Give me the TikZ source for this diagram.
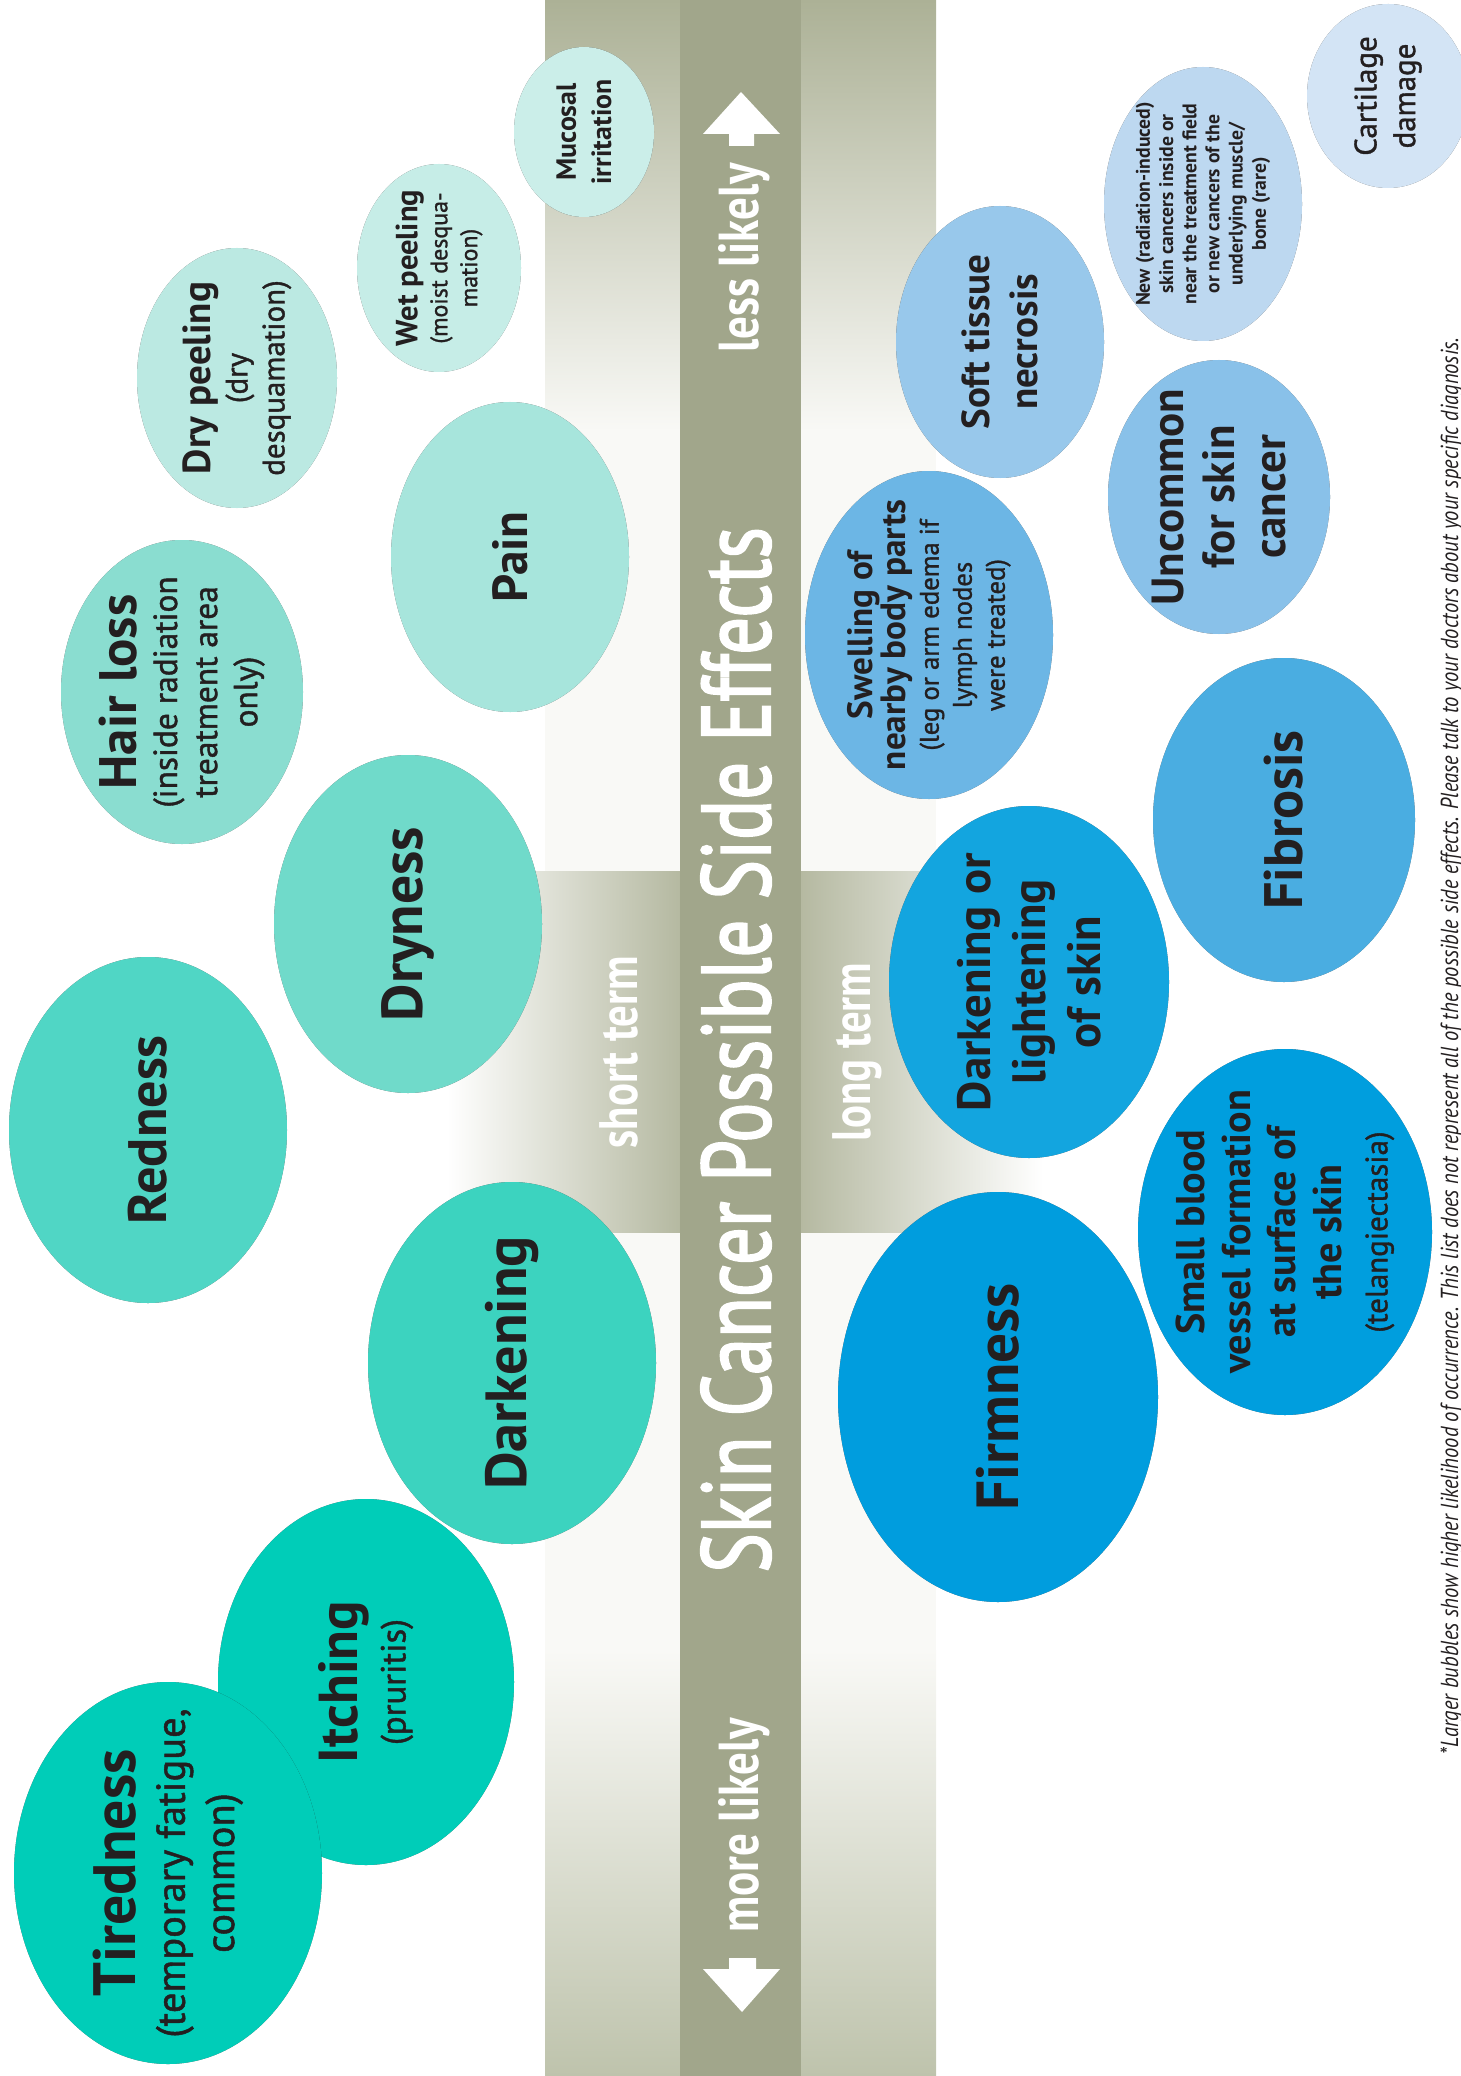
\documentclass[tikz,border=0pt]{standalone}
\usepackage{fontspec}
\setmainfont{PT Sans}
\newfontfamily\titlefont{PT Sans}[FakeBold=2.2]
\newfontfamily\semifont{PT Sans}[FakeBold=1.2]
\usepackage{tikz}
\usetikzlibrary{calc}

\definecolor{strip}{RGB}{161,166,139}
\definecolor{bandtop}{RGB}{172,177,150}
\definecolor{bandbot}{RGB}{190,195,172}
\definecolor{bandmid}{RGB}{249,249,246}
\definecolor{termgray}{RGB}{181,185,161}
\definecolor{inktext}{RGB}{35,31,32}
% teal bubbles
\definecolor{cTired}{RGB}{0,205,184}
\definecolor{cItch}{RGB}{0,205,184}
\definecolor{cDarkL}{RGB}{60,211,191}
\definecolor{cRed}{RGB}{80,214,197}
\definecolor{cDry}{RGB}{112,218,202}
\definecolor{cHair}{RGB}{138,221,208}
\definecolor{cPain}{RGB}{167,229,220}
\definecolor{cDryPeel}{RGB}{187,233,226}
\definecolor{cWetPeel}{RGB}{198,237,231}
\definecolor{cMucosal}{RGB}{203,238,233}
% blue bubbles
\definecolor{cFirm}{RGB}{0,157,222}
\definecolor{cVessel}{RGB}{0,158,222}
\definecolor{cDarkR}{RGB}{19,165,223}
\definecolor{cFibro}{RGB}{74,173,225}
\definecolor{cSwell}{RGB}{108,182,229}
\definecolor{cSoft}{RGB}{152,200,235}
\definecolor{cUncommon}{RGB}{137,193,233}
\definecolor{cNew}{RGB}{189,216,240}
\definecolor{cCartil}{RGB}{211,228,245}

\newcommand{\bsz}[2]{\fontsize{#1}{#2}\bfseries\selectfont}
\newcommand{\rsz}[2]{\fontsize{#1}{#2}\semifont}

\tikzset{
  bubtxt/.style={rotate=90, align=center, text=inktext, inner sep=0pt},
  bandtxt/.style={rotate=90, text=white, inner sep=0pt, anchor=base},
  shadeA/.style={fill=black, opacity=0.15},
  shadeB/.style={fill=black!85, opacity=0.6},
}

\begin{document}
\begin{tikzpicture}[x=0.01cm, y=-0.01cm]
        %RAHMEN
        \useasboundingbox (0,0) rectangle (1460,2076);

        %BAND
        \shade[top color=bandtop, bottom color=bandmid] (545,0) rectangle (936,431);
        \fill[bandmid] (545,430) rectangle (936,1651);
        \shade[top color=bandmid, bottom color=bandbot] (545,1650) rectangle (936,2076);
        \shade[left color=white, right color=termgray] (447,871) rectangle (680,1232);
        \shade[left color=termgray, right color=white] (801,871) rectangle (1043,1232);
        \fill[strip] (680,0) rectangle (801,2076);

        %PANAH
        \fill[white] (741,92) -- (780,134) -- (754,134) -- (754,146) -- (729,146) -- (729,134) -- (703,134) -- cycle;
        \fill[white] (742,2012) -- (780,1969) -- (756,1969) -- (756,1958) -- (729,1958) -- (729,1969) -- (703,1969) -- cycle;

        %JUDUL
        \node[bandtxt] (title) at (770,1050) {\fontsize{27.6}{30}\titlefont\scalebox{0.77}[1]{Skin Cancer Possible Side Effects}};
        \node[bandtxt] (less) at (758,258) {\bsz{16}{18}\scalebox{0.8}[1]{less likely}};
        \node[bandtxt] (more) at (758,1825) {\bsz{16}{18}\scalebox{0.8}[1]{more likely}};
        \node[bandtxt] (short) at (637,1052) {\bsz{15.4}{18}\scalebox{0.79}[1]{short term}};
        \node[bandtxt] (long) at (870,1052) {\bsz{15.4}{18}\scalebox{0.79}[1]{long term}};

        %KOORDINAT
        \coordinate (cartil) at (1388,96);
        \coordinate (mucosal) at (584,132);
        \coordinate (newcan) at (1203,204);
        \coordinate (wetpeel) at (439,268);
        \coordinate (soft) at (1000,342);
        \coordinate (drypeel) at (237,378);
        \coordinate (uncommon) at (1219,497);
        \coordinate (pain) at (510,557);
        \coordinate (swell) at (929,635);
        \coordinate (hair) at (182,692);
        \coordinate (fibro) at (1284,820);
        \coordinate (dry) at (408,924);
        \coordinate (darkr) at (1029,982);
        \coordinate (red) at (148,1130);
        \coordinate (vessel) at (1285,1232);
        \coordinate (darkl) at (512,1363);
        \coordinate (firm) at (998,1397);
        \coordinate (itch) at (366,1682);
        \coordinate (tired) at (168,1873);

        %GELEMBUNG
        \fill[shadeA, shift={(7,7)}] (cartil) ellipse [x radius=81, y radius=92];
        \fill[shadeB, shift={(3,3)}] (cartil) ellipse [x radius=81, y radius=92];
        \fill[cCartil] (cartil) ellipse [x radius=81, y radius=92];
        \node[bubtxt, font=\fontsize{8.8}{11}\selectfont] (cartiltxt) at (cartil) {\rsz{8.8}{11}Cartilage\\\rsz{8.8}{11}damage};

        \fill[shadeA, shift={(7,7)}] (mucosal) ellipse [x radius=70, y radius=85];
        \fill[shadeB, shift={(3,3)}] (mucosal) ellipse [x radius=70, y radius=85];
        \fill[cMucosal] (mucosal) ellipse [x radius=70, y radius=85];
        \node[bubtxt, font=\fontsize{7.9}{10}\selectfont] (mucosaltxt) at (mucosal) {\bsz{7.9}{10}Mucosal\\\bsz{7.9}{10}irritation};

        \fill[shadeA, shift={(7,7)}] (newcan) ellipse [x radius=99, y radius=137];
        \fill[shadeB, shift={(3,3)}] (newcan) ellipse [x radius=99, y radius=137];
        \fill[cNew] (newcan) ellipse [x radius=99, y radius=137];
        \node[bubtxt, font=\fontsize{5.6}{6.6}\selectfont] (newcantxt) at (newcan) {\bsz{5.6}{6.6}New (radiation-induced)\\\bsz{5.6}{6.6}skin cancers inside or\\\bsz{5.6}{6.6}near the treatment field\\\bsz{5.6}{6.6}or new cancers of the\\\bsz{5.6}{6.6}underlying muscle/\\\bsz{5.6}{6.6}bone (rare)};

        \fill[shadeA, shift={(7,7)}] (wetpeel) ellipse [x radius=82, y radius=104];
        \fill[shadeB, shift={(3,3)}] (wetpeel) ellipse [x radius=82, y radius=104];
        \fill[cWetPeel] (wetpeel) ellipse [x radius=82, y radius=104];
        \node[bubtxt, font=\fontsize{6.8}{8.5}\selectfont] (wetpeeltxt) at (wetpeel) {\bsz{8.7}{10}Wet peeling\\\rsz{6.8}{8.5}(moist desqua-\\\rsz{6.8}{8.5}mation)};

        \fill[shadeA, shift={(7,7)}] (soft) ellipse [x radius=104, y radius=136];
        \fill[shadeB, shift={(3,3)}] (soft) ellipse [x radius=104, y radius=136];
        \fill[cSoft] (soft) ellipse [x radius=104, y radius=136];
        \node[bubtxt, font=\fontsize{11.1}{13.5}\selectfont] (softtxt) at (soft) {\bsz{11.1}{13.5}Soft tissue\\\bsz{11.1}{13.5}necrosis};

        \fill[shadeA, shift={(7,7)}] (drypeel) ellipse [x radius=100, y radius=130];
        \fill[shadeB, shift={(3,3)}] (drypeel) ellipse [x radius=100, y radius=130];
        \fill[cDryPeel] (drypeel) ellipse [x radius=100, y radius=130];
        \node[bubtxt, font=\fontsize{8.8}{10.5}\selectfont] (drypeeltxt) at (drypeel) {\bsz{11.1}{13}Dry peeling\\\rsz{8.8}{10.5}(dry\\\rsz{8.8}{10.5}desquamation)};

        \fill[shadeA, shift={(7,7)}] (uncommon) ellipse [x radius=111, y radius=137];
        \fill[shadeB, shift={(3,3)}] (uncommon) ellipse [x radius=111, y radius=137];
        \fill[cUncommon] (uncommon) ellipse [x radius=111, y radius=137];
        \node[bubtxt, font=\fontsize{12.8}{14.5}\selectfont] (uncommontxt) at (uncommon) {\bsz{12.8}{14.5}Uncommon\\\bsz{12.8}{14.5}for skin\\\bsz{12.8}{14.5}cancer};

        \fill[shadeA, shift={(7,7)}] (pain) ellipse [x radius=119, y radius=155];
        \fill[shadeB, shift={(3,3)}] (pain) ellipse [x radius=119, y radius=155];
        \fill[cPain] (pain) ellipse [x radius=119, y radius=155];
        \node[bubtxt] (paintxt) at (pain) {\bsz{14}{16}Pain};

        \fill[shadeA, shift={(7,7)}] (swell) ellipse [x radius=124, y radius=164];
        \fill[shadeB, shift={(3,3)}] (swell) ellipse [x radius=124, y radius=164];
        \fill[cSwell] (swell) ellipse [x radius=124, y radius=164];
        \node[bubtxt, font=\fontsize{7.6}{9.4}\selectfont] (swelltxt) at (swell) {\bsz{10}{11.5}Swelling of\\\bsz{10}{11.5}nearby body parts\\\rsz{7.6}{9.4}(leg or arm edema if\\\rsz{7.6}{9.4}lymph nodes\\\rsz{7.6}{9.4}were treated)};

        \fill[shadeA, shift={(7,7)}] (hair) ellipse [x radius=121, y radius=152];
        \fill[shadeB, shift={(3,3)}] (hair) ellipse [x radius=121, y radius=152];
        \fill[cHair] (hair) ellipse [x radius=121, y radius=152];
        \node[bubtxt, font=\fontsize{9.5}{11.4}\selectfont] (hairtxt) at (hair) {\bsz{15}{16}Hair loss\\\rsz{9.5}{11.4}(inside radiation\\\rsz{9.5}{11.4}treatment area\\\rsz{9.5}{11.4}only)};

        \fill[shadeA, shift={(7,7)}] (fibro) ellipse [x radius=131, y radius=162];
        \fill[shadeB, shift={(3,3)}] (fibro) ellipse [x radius=131, y radius=162];
        \fill[cFibro] (fibro) ellipse [x radius=131, y radius=162];
        \node[bubtxt] (fibrotxt) at (fibro) {\bsz{15.4}{17}Fibrosis};

        \fill[shadeA, shift={(7,7)}] (dry) ellipse [x radius=134, y radius=169];
        \fill[shadeB, shift={(3,3)}] (dry) ellipse [x radius=134, y radius=169];
        \fill[cDry] (dry) ellipse [x radius=134, y radius=169];
        \node[bubtxt] (drytxt) at (dry) {\bsz{16.4}{18}Dryness};

        \fill[shadeA, shift={(7,7)}] (darkr) ellipse [x radius=140, y radius=176];
        \fill[shadeB, shift={(3,3)}] (darkr) ellipse [x radius=140, y radius=176];
        \fill[cDarkR] (darkr) ellipse [x radius=140, y radius=176];
        \node[bubtxt, font=\fontsize{13.3}{15.6}\selectfont] (darkrtxt) at (darkr) {\bsz{13.3}{15.6}Darkening or\\\bsz{13.3}{15.6}lightening\\\bsz{13.3}{15.6}of skin};

        \fill[shadeA, shift={(7,7)}] (red) ellipse [x radius=139, y radius=173];
        \fill[shadeB, shift={(3,3)}] (red) ellipse [x radius=139, y radius=173];
        \fill[cRed] (red) ellipse [x radius=139, y radius=173];
        \node[bubtxt] (redtxt) at (red) {\bsz{15.4}{17}Redness};

        \fill[shadeA, shift={(7,7)}] (vessel) ellipse [x radius=147, y radius=183];
        \fill[shadeB, shift={(3,3)}] (vessel) ellipse [x radius=147, y radius=183];
        \fill[cVessel] (vessel) ellipse [x radius=147, y radius=183];
        \node[bubtxt, font=\fontsize{11.4}{13}\selectfont] (vesseltxt) at (vessel) {\bsz{11.4}{13}Small blood\\\bsz{11.4}{13}vessel formation\\\bsz{11.4}{13}at surface of\\\bsz{11.4}{13}the skin\\\rsz{8.8}{11}(telangiectasia)};

        \fill[shadeA, shift={(7,7)}] (darkl) ellipse [x radius=144, y radius=181];
        \fill[shadeB, shift={(3,3)}] (darkl) ellipse [x radius=144, y radius=181];
        \fill[cDarkL] (darkl) ellipse [x radius=144, y radius=181];
        \node[bubtxt] (darkltxt) at (darkl) {\bsz{16.5}{18}Darkening};

        \fill[shadeA, shift={(7,7)}] (firm) ellipse [x radius=160, y radius=205];
        \fill[shadeB, shift={(3,3)}] (firm) ellipse [x radius=160, y radius=205];
        \fill[cFirm] (firm) ellipse [x radius=160, y radius=205];
        \node[bubtxt] (firmtxt) at (firm) {\bsz{16.9}{18}Firmness};

        \fill[shadeA, shift={(7,7)}] (itch) ellipse [x radius=148, y radius=183];
        \fill[shadeB, shift={(3,3)}] (itch) ellipse [x radius=148, y radius=183];
        \fill[cItch] (itch) ellipse [x radius=148, y radius=183];
        \node[bubtxt, font=\fontsize{9.9}{13.5}\selectfont] (itchtxt) at (itch) {\bsz{15.6}{17}Itching\\\rsz{9.9}{13.5}(pruritis)};

        \fill[shadeA, shift={(7,7)}] (tired) ellipse [x radius=154, y radius=191];
        \fill[shadeB, shift={(3,3)}] (tired) ellipse [x radius=154, y radius=191];
        \fill[cTired] (tired) ellipse [x radius=154, y radius=191];
        \node[bubtxt, font=\fontsize{11.5}{14}\selectfont] (tiredtxt) at (tired) {\bsz{17}{19}Tiredness\\\rsz{11.5}{14}(temporary fatigue,\\\rsz{11.5}{14}common)};

        %CATATAN
        \node[bandtxt, text=inktext] (note) at (1458,1046) {\fontsize{7}{8}\itshape\selectfont\scalebox{0.836}[1]{*Larger bubbles show higher likelihood of occurrence. This list does not represent all of the possible side effects. Please talk to your doctors about your specific diagnosis.}};
    \end{tikzpicture}
\end{document}
